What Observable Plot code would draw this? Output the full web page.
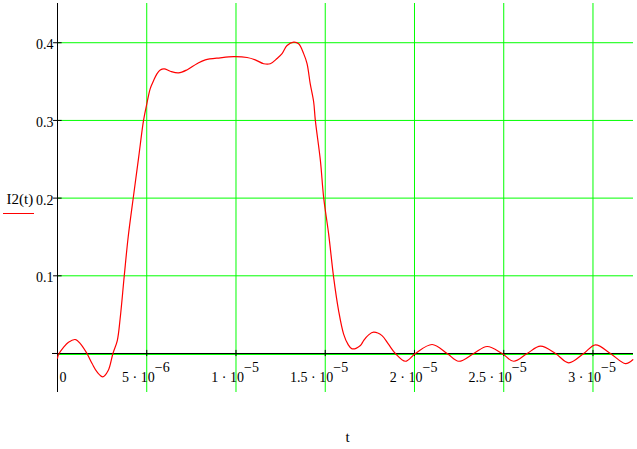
<!DOCTYPE html>
<html>
<head>
<meta charset="utf-8">
<script src="https://cdn.jsdelivr.net/npm/d3@7"></script>
<script src="https://cdn.jsdelivr.net/npm/@observablehq/plot@0.6"></script>
<style>
  html, body { margin: 0; padding: 0; background: #fff; }
</style>
</head>
<body>
<div id="chart"></div>
<script>
// time in microseconds
const tUs = [0, 0.056, 0.336, 0.617, 0.99, 1.29, 1.65, 1.945, 2.225, 2.545, 2.84, 3.105, 3.35, 3.51, 3.74, 3.96, 4.26, 4.55, 4.82, 5.01, 5.196, 5.38, 5.57, 5.757, 5.98, 6.32, 6.78, 7.25, 7.81, 8.28, 9.12, 9.865, 10.62, 11.08, 11.55, 11.92, 12.30, 12.58, 12.86, 13.23, 13.51, 13.79, 13.98, 14.16, 14.35, 14.445, 14.73, 14.91, 15.19, 15.47, 15.75, 16.03, 16.27, 16.50, 16.97, 17.15, 17.43, 17.71, 18.18, 18.54, 18.93, 19.49, 20.05, 20.99, 21.83, 22.48, 23.32, 24.07, 24.91, 25.56, 26.31, 27.06, 27.90, 28.64, 29.48, 30.14, 30.98, 31.82, 32.23];
const i2 = [-0.006, -0.0013, 0.008, 0.0146, 0.018, 0.0125, 0, -0.0133, -0.024, -0.030, -0.022, 0, 0.0167, 0.045, 0.1, 0.150, 0.203, 0.253, 0.300, 0.322, 0.341, 0.351, 0.360, 0.365, 0.3664, 0.3633, 0.3612, 0.365, 0.373, 0.378, 0.3806, 0.382, 0.381, 0.378, 0.373, 0.373, 0.3797, 0.386, 0.3964, 0.4007, 0.3986, 0.386, 0.373, 0.347, 0.324, 0.300, 0.248, 0.201, 0.154, 0.098, 0.055, 0.025, 0.012, 0.006, 0.0103, 0.0167, 0.024, 0.0274, 0.023, 0.012, 0, -0.010, 0, 0.0116, 0, -0.010, 0, 0.009, 0, -0.010, 0, 0.0094, 0, -0.012, 0, 0.0112, 0, -0.013, -0.008];

const yGrid = [0.1, 0.2, 0.3, 0.4];
const yTickLabels = ["0.1", "0.2", "0.3", "0.4"];
const xGrid = [5, 10, 15, 20, 25, 30];
const xTickBase = ["5 · 10", "1 · 10", "1.5 · 10", "2 · 10", "2.5 · 10", "3 · 10"];
const xTickExp = ["−6", "−5", "−5", "−5", "−5", "−5"];
const xDomain = [0, 32.27];
const yDomain = [-0.0502, 0.4505];

const data = tUs.map((t, i) => ({t, v: i2[i]}));

const green = "#00ff00";
const svg = Plot.plot({
  width: 637,
  height: 449,
  marginLeft: 57,
  marginRight: 4,
  marginTop: 3,
  marginBottom: 57,
  style: {fontFamily: "'Liberation Serif', serif", fontSize: "14px", background: "#fff", color: "#000"},
  x: {domain: xDomain, axis: null},
  y: {domain: yDomain, axis: null},
  marks: [
    Plot.ruleY(yGrid, {stroke: green, strokeWidth: 1}),
    Plot.ruleY([0], {stroke: green, strokeWidth: 1, dy: 1}),
    Plot.ruleX(xGrid, {stroke: green, strokeWidth: 1}),
    Plot.ruleY([0], {x1: -0.28, x2: xDomain[1], stroke: "#000", strokeWidth: 1}),
    Plot.ruleX([0], {stroke: "#000", strokeWidth: 1}),
    Plot.ruleY([0, ...yGrid], {x1: -0.22, x2: 0.26, stroke: "#000"}),
    Plot.ruleX(xGrid, {y1: -0.004, y2: 0.004, stroke: "#000"}),
    Plot.line(data, {x: "t", y: "v", stroke: "#ff0000", strokeWidth: 1.2, curve: "catmull-rom"}),
    Plot.text(yGrid, {x: 0, y: d => d, text: (d, i) => yTickLabels[i], textAnchor: "end", dx: -4, dy: 2, fill: "#000"}),
    Plot.text(xGrid, {x: d => d, y: 0, text: (d, i) => xTickBase[i], textAnchor: "end", dx: 8, dy: 24, fill: "#000"}),
    Plot.text(xGrid, {x: d => d, y: 0, text: (d, i) => xTickExp[i], textAnchor: "start", dx: 8, dy: 14, fill: "#000"}),
    Plot.text(["0"], {x: 0, y: 0, textAnchor: "start", dx: 2, dy: 24, fill: "#000"}),
    Plot.text(["I2(t)"], {frameAnchor: "left", textAnchor: "start", dx: -51, dy: 1.5, fontSize: 15, fill: "#000"}),
    Plot.text(["t"], {frameAnchor: "bottom", dx: 2, dy: 49, fontSize: 15, fill: "#000"})
  ]
});
d3.select(svg).append("line")
  .attr("x1", 3).attr("x2", 34).attr("y1", 213.5).attr("y2", 213.5)
  .attr("stroke", "#ff0000").attr("stroke-width", 1);
document.getElementById("chart").appendChild(svg);
</script>
</body>
</html>
